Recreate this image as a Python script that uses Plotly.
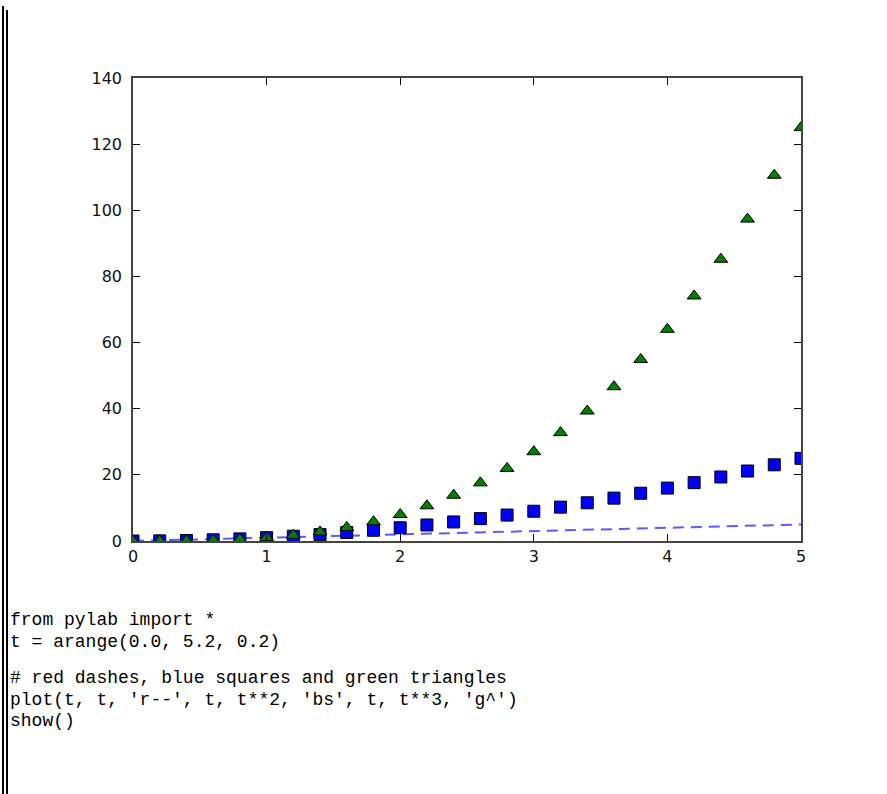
import plotly.graph_objects as go

# ---- data ----
t = [0.0, 0.2, 0.4, 0.6, 0.8, 1.0, 1.2, 1.4, 1.6, 1.8, 2.0, 2.2, 2.4, 2.6,
     2.8, 3.0, 3.2, 3.4, 3.6, 3.8, 4.0, 4.2, 4.4, 4.6, 4.8, 5.0]
line_vals = [0.0, 0.2, 0.4, 0.6, 0.8, 1.0, 1.2, 1.4, 1.6, 1.8, 2.0, 2.2, 2.4, 2.6,
             2.8, 3.0, 3.2, 3.4, 3.6, 3.8, 4.0, 4.2, 4.4, 4.6, 4.8, 5.0]
square_vals = [0.0, 0.04, 0.16, 0.36, 0.64, 1.0, 1.44, 1.96, 2.56, 3.24, 4.0, 4.84,
               5.76, 6.76, 7.84, 9.0, 10.24, 11.56, 12.96, 14.44, 16.0, 17.64,
               19.36, 21.16, 23.04, 25.0]
triangle_vals = [0.0, 0.008, 0.064, 0.216, 0.512, 1.0, 1.728, 2.744, 4.096, 5.832,
                 8.0, 10.648, 13.824, 17.576, 21.952, 27.0, 32.768, 39.304, 46.656,
                 54.872, 64.0, 74.088, 85.184, 97.336, 110.592, 125.0]
x_ticks = [0, 1, 2, 3, 4, 5]
y_ticks = [0, 20, 40, 60, 80, 100, 120, 140]
code_lines = [
    "from pylab import *",
    "t = arange(0.0, 5.2, 0.2)",
    "# red dashes, blue squares and green triangles",
    "plot(t, t, 'r--', t, t**2, 'bs', t, t**3, 'g^')",
    "show()",
]

# ---- layout geometry (pixels) ----
W, H = 887, 794
L, R, T, B = 133, 801, 78, 541
pw, ph = R - L, B - T


def px(x):
    return (x - L) / pw


def py(y):
    return (B - y) / ph


fig = go.Figure()
fig.add_trace(go.Scatter(x=t, y=line_vals, mode="lines",
                         line=dict(color="#5a5aff", width=2, dash="11px,7px"),
                         showlegend=False))
fig.add_trace(go.Scatter(x=t, y=square_vals, mode="markers",
                         marker=dict(symbol="square", size=12, color="#0000ff",
                                     line=dict(color="black", width=1)),
                         showlegend=False))
fig.add_trace(go.Scatter(x=t, y=triangle_vals, mode="markers",
                         marker=dict(symbol="triangle-up", size=12, color="#008000",
                                     line=dict(color="black", width=1)),
                         showlegend=False))

axis_common = dict(showgrid=False, zeroline=False, showline=True, linecolor="#444",
                   linewidth=1.5, mirror="ticks", ticks="inside", ticklen=7,
                   tickwidth=1.2, tickcolor="black",
                   tickfont=dict(family="DejaVu Sans", size=16, color="#111"))
fig.update_xaxes(range=[0, 5], tickvals=x_ticks, ticktext=[str(v) for v in x_ticks],
                 **axis_common)
fig.update_yaxes(range=[0, 140], tickvals=y_ticks, ticktext=[str(v) for v in y_ticks],
                 ticklabelstandoff=6, **axis_common)

# code text
code_y = [620, 642, 678, 700, 721]
for line, yy in zip(code_lines, code_y):
    fig.add_annotation(text=line, xref="paper", yref="paper", x=px(8), y=py(yy),
                       xanchor="left", yanchor="middle", showarrow=False,
                       font=dict(family="Liberation Mono", size=18, color="black"))

# left double border lines
fig.add_shape(type="line", xref="paper", yref="paper", x0=px(3), x1=px(3),
              y0=py(6), y1=py(800), line=dict(color="black", width=2))
fig.add_shape(type="line", xref="paper", yref="paper", x0=px(7), x1=px(7),
              y0=py(10), y1=py(800), line=dict(color="black", width=2))

fig.update_layout(width=W, height=H, margin=dict(l=L, r=W - R, t=T, b=H - B),
                  paper_bgcolor="white", plot_bgcolor="white")
fig.write_html("out.html")
